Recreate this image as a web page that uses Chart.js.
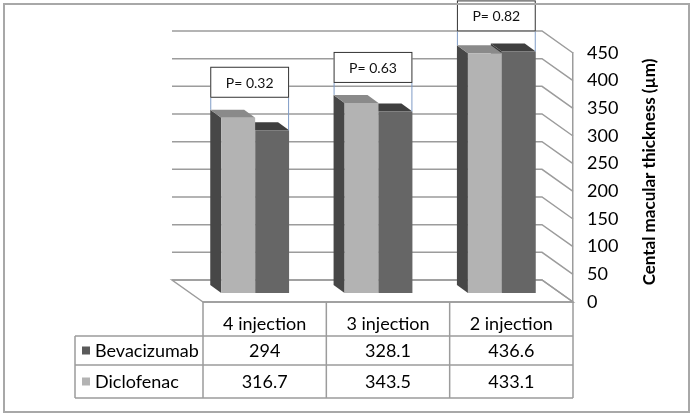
<!DOCTYPE html>
<html>
<head>
<meta charset="utf-8">
<script src="https://cdn.jsdelivr.net/npm/chart.js@4"></script>
<style>
  body { margin: 0; background: #fff; }
  canvas { display: block; }
</style>
</head>
<body>
<canvas id="cmt" width="693" height="418"></canvas>
<script>
// data
const injections = ["4 injection", "3 injection", "2 injection"];
const diclofenac = [316.7, 343.5, 433.1];
const bevacizumab = [294, 328.1, 436.6];
const pValues = ["P= 0.32", "P= 0.63", "P= 0.82"];
const yTitle = "Cental macular thickness (\u00b5m)";

// table rows, top to bottom (same order as the figure)
const tableRows = [
  { name: "Bevacizumab", values: bevacizumab, color: "#5a5a5a" },
  { name: "Diclofenac", values: diclofenac, color: "#b3b3b3" }
];

const frontColors = ["#b3b3b3", "#666666"];
const topColors = ["#8a8a8a", "#3f3f3f"];
const sideColors = ["#474747", "#3a3a3a"];
const lineGrey = "#9c9c9c";

// 3d look: depth of the box and of the bars
const depth = { x: -31, y: -22 };
const barDepth = { x: -11, y: -8 };
const barShift = { x: -9.5, y: -9 };

Chart.defaults.font.family = "Lato";

function barBox(bar) {
  const p = bar.getProps(["x", "y", "base", "width"], true);
  return { l: p.x - p.width / 2, r: p.x + p.width / 2, t: p.y, b: p.base };
}

const fake3d = {
  id: "fake3d",
  beforeDatasetsDraw(chart) {
    const ctx = chart.ctx, a = chart.chartArea, ys = chart.scales.y;
    ctx.save();
    ctx.strokeStyle = lineGrey;
    ctx.lineWidth = 1.5;
    // floor
    ctx.beginPath();
    ctx.moveTo(a.left, a.bottom);
    ctx.lineTo(a.left + depth.x, a.bottom + depth.y);
    ctx.lineTo(a.right + depth.x, a.bottom + depth.y);
    ctx.lineTo(a.right, a.bottom);
    ctx.closePath();
    ctx.stroke();
    // back wall gridlines + side wall
    ys.ticks.forEach(t => {
      const y = ys.getPixelForValue(t.value);
      ctx.beginPath();
      ctx.moveTo(a.left + depth.x, y + depth.y);
      ctx.lineTo(a.right + depth.x, y + depth.y);
      ctx.lineTo(a.right, y);
      ctx.stroke();
    });
    ctx.restore();

    // bars sit a bit inside the box
    ctx.save();
    ctx.translate(barShift.x, barShift.y);
    [1, 0].forEach(di => {
      chart.getDatasetMeta(di).data.forEach(bar => {
        const b = barBox(bar);
        ctx.fillStyle = sideColors[di];
        ctx.beginPath();
        ctx.moveTo(b.l, b.t);
        ctx.lineTo(b.l + barDepth.x, b.t + barDepth.y);
        ctx.lineTo(b.l + barDepth.x, b.b + barDepth.y);
        ctx.lineTo(b.l, b.b);
        ctx.closePath();
        ctx.fill();
        ctx.fillStyle = topColors[di];
        ctx.beginPath();
        ctx.moveTo(b.l, b.t);
        ctx.lineTo(b.r, b.t);
        ctx.lineTo(b.r + barDepth.x, b.t + barDepth.y);
        ctx.lineTo(b.l + barDepth.x, b.t + barDepth.y);
        ctx.closePath();
        ctx.fill();
      });
    });
  },
  afterDatasetsDraw(chart) {
    chart.ctx.restore();
  },
  afterDraw(chart) {
    const ctx = chart.ctx, a = chart.chartArea, xs = chart.scales.x;
    const cw = (a.right - a.left) / injections.length;
    ctx.save();

    // p value boxes
    const light = chart.getDatasetMeta(0).data;
    const dark = chart.getDatasetMeta(1).data;
    injections.forEach((c, i) => {
      const lb = barBox(light[i]), db = barBox(dark[i]);
      const left = lb.l + barShift.x + barDepth.x;
      const right = db.r + barShift.x;
      const topBack = Math.min(lb.t, db.t) + barShift.y + barDepth.y;
      const bottom = topBack - 12;
      const h = 31;
      ctx.strokeStyle = "#7f9cc6";
      ctx.lineWidth = 1;
      ctx.beginPath();
      ctx.moveTo(left + 0.5, bottom);
      ctx.lineTo(left + 0.5, lb.t + barShift.y + barDepth.y);
      ctx.moveTo(right - 0.5, bottom);
      ctx.lineTo(right - 0.5, db.t + barShift.y);
      ctx.stroke();
      ctx.fillStyle = "#fff";
      ctx.fillRect(left, bottom - h, right - left, h);
      ctx.strokeStyle = "#333";
      ctx.strokeRect(left + 0.5, bottom - h + 0.5, right - left - 1, h - 1);
      ctx.fillStyle = "#111";
      ctx.font = "14px Lato";
      ctx.textAlign = "center";
      ctx.textBaseline = "middle";
      ctx.fillText(pValues[i], (left + right) / 2, bottom - h / 2 + 1);
    });

    // data table
    const tLeft = 75, tTop = a.bottom, rowY = [336, 365, 398];
    ctx.strokeStyle = lineGrey;
    ctx.lineWidth = 1.5;
    ctx.beginPath();
    rowY.forEach(y => { ctx.moveTo(tLeft, y); ctx.lineTo(a.right, y); });
    ctx.moveTo(a.left, tTop); ctx.lineTo(a.right, tTop);
    ctx.moveTo(tLeft, rowY[0]); ctx.lineTo(tLeft, rowY[2]);
    for (let k = 0; k <= injections.length; k++) {
      const x = a.left + k * cw;
      ctx.moveTo(x, tTop); ctx.lineTo(x, rowY[2]);
    }
    ctx.stroke();

    ctx.fillStyle = "#000";
    ctx.font = "18px Lato";
    ctx.textAlign = "center";
    ctx.textBaseline = "middle";
    injections.forEach((c, i) => {
      const x = xs.getPixelForValue(i);
      ctx.fillText(c, x, 324);
      tableRows.forEach((r, j) => {
        ctx.fillText(String(r.values[i]), x, (rowY[j] + rowY[j + 1]) / 2 + 1);
      });
    });
    ctx.textAlign = "left";
    tableRows.forEach((r, j) => {
      const y = (rowY[j] + rowY[j + 1]) / 2;
      ctx.fillStyle = r.color;
      ctx.fillRect(82, y - 4, 8, 8);
      ctx.fillStyle = "#000";
      ctx.fillText(r.name, 95, y + 1);
    });

    // axis title, reads bottom to top
    ctx.translate(650, 172);
    ctx.rotate(-Math.PI / 2);
    ctx.font = "bold 17px Lato";
    ctx.textAlign = "center";
    ctx.fillText(yTitle, 0, 0);
    ctx.restore();

    // outer frame
    ctx.save();
    ctx.strokeStyle = "#a8a8a8";
    ctx.lineWidth = 2;
    ctx.strokeRect(4, 4, 685, 408);
    ctx.restore();
  }
};

new Chart("cmt", {
  type: "bar",
  data: {
    labels: injections,
    datasets: [
      { label: "Diclofenac", data: diclofenac, backgroundColor: frontColors[0], borderWidth: 0 },
      { label: "Bevacizumab", data: bevacizumab, backgroundColor: frontColors[1], borderWidth: 0 }
    ]
  },
  options: {
    responsive: false,
    animation: false,
    layout: { padding: { left: 203, top: 53, right: 0, bottom: 116 } },
    datasets: { bar: { categoryPercentage: 0.55, barPercentage: 1.0 } },
    plugins: { legend: { display: false }, tooltip: { enabled: false } },
    scales: {
      x: { display: false },
      y: {
        position: "right",
        min: 0,
        max: 450,
        ticks: { stepSize: 50, padding: 14, color: "#000", font: { size: 18 } },
        grid: { display: false, drawTicks: false },
        border: { display: true, color: lineGrey, width: 1.5 },
        afterFit(s) { s.width = 120; }
      }
    }
  },
  plugins: [fake3d]
});
</script>
</body>
</html>
